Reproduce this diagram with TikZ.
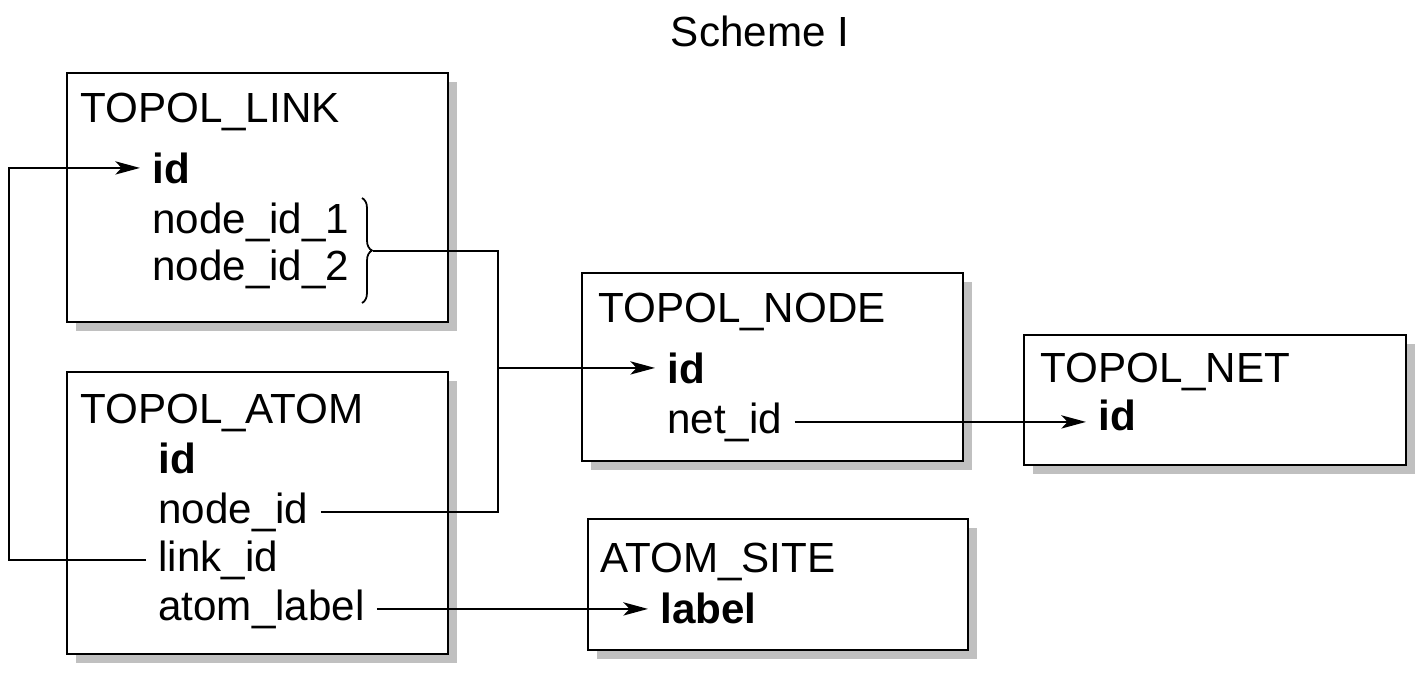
\documentclass[tikz,border=0pt]{standalone}
\usepackage{fontspec}
\setmainfont{Liberation Sans}
\usepackage{tikz}
\usetikzlibrary{arrows.meta, shadows, decorations.pathreplacing, calc}

\definecolor{shadowgray}{HTML}{C0C0C0}
\tikzset{
  tbl/.style={draw, line width=1.3pt, fill=white, anchor=north west, inner sep=0pt,
    drop shadow={shadow xshift=0.18cm, shadow yshift=-0.18cm, fill=shadowgray, opacity=1}},
  ttl/.style={anchor=base west, inner sep=0pt, font=\fontsize{24}{28}\selectfont},
  fld/.style={anchor=base west, inner xsep=0.24cm, inner ysep=0pt, font=\fontsize{24}{28}\selectfont},
  key/.style={fld, font=\fontsize{24}{28}\selectfont\bfseries},
  link/.style={line width=1.3pt}
}

\begin{document}
\begin{tikzpicture}[x=0.02cm, y=-0.02cm, >={Stealth[length=14pt, width=7.5pt, inset=3.5pt]}]
    \useasboundingbox (0,0) rectangle (1426,674);
    \node[font=\fontsize{24}{28}\selectfont, anchor=base, inner sep=0pt] (scheme) at (760,46) {Scheme I};

    % Tabelle TOPOL_LINK
    \node[tbl, minimum width=7.62cm, minimum height=4.98cm] (tlink) at (66,72) {};
    \node[ttl] (tlinkT) at (80,122) {TOPOL\_LINK};
    \node[key] (lid) at (140,183) {id};
    \node[fld] (lnode1) at (140,233) {node\_id\_1};
    \node[fld] (lnode2) at (140,280) {node\_id\_2};

    % Tabelle TOPOL_ATOM
    \node[tbl, minimum width=7.62cm, minimum height=5.64cm] (tatom) at (66,371) {};
    \node[ttl] (tatomT) at (80,423) {TOPOL\_ATOM};
    \node[key] (aid) at (146,473) {id};
    \node[fld] (anode) at (146,523) {node\_id};
    \node[fld] (alink) at (146,571) {link\_id};
    \node[fld] (alabel) at (146,620) {atom\_label};

    % Tabelle TOPOL_NODE
    \node[tbl, minimum width=7.62cm, minimum height=3.76cm] (tnode) at (581,272) {};
    \node[ttl] (tnodeT) at (598,322) {TOPOL\_NODE};
    \node[key] (nid) at (655,383) {id};
    \node[fld] (nnet) at (655,433) {net\_id};

    % Tabelle ATOM_SITE
    \node[tbl, minimum width=7.60cm, minimum height=2.62cm] (tsite) at (587,518) {};
    \node[ttl] (tsiteT) at (600,572) {ATOM\_SITE};
    \node[key] (slabel) at (648,623) {label};

    % Tabelle TOPOL_NET
    \node[tbl, minimum width=7.64cm, minimum height=2.60cm] (tnet) at (1023,334) {};
    \node[ttl] (tnetT) at (1040,382) {TOPOL\_NET};
    \node[key] (tid) at (1086,430) {id};

    % Klammer um node_id_1 / node_id_2
    \coordinate (braceTop) at (362,198);
    \coordinate (braceBot) at (362,303);
    \coordinate (braceTip) at (373,251);
    \coordinate (trunk) at (498,251);
    \coordinate (loop) at (9,400);
    \draw[line width=1pt, decorate, decoration={brace, amplitude=0.2cm}] (braceTop) -- (braceBot);

    % Verbindungen
    \draw[link] (anode.east) -| (trunk) -- (braceTip);
    \draw[link, ->] (trunk |- nid.west) -- (nid.west);
    \draw[link, ->] (alink.west) -| (loop) |- (lid.west);
    \draw[link, ->] (alabel.east) -- (alabel.east -| slabel.west);
    \draw[link, ->] (nnet.east) -- (nnet.east -| tid.west);
\end{tikzpicture}
\end{document}
